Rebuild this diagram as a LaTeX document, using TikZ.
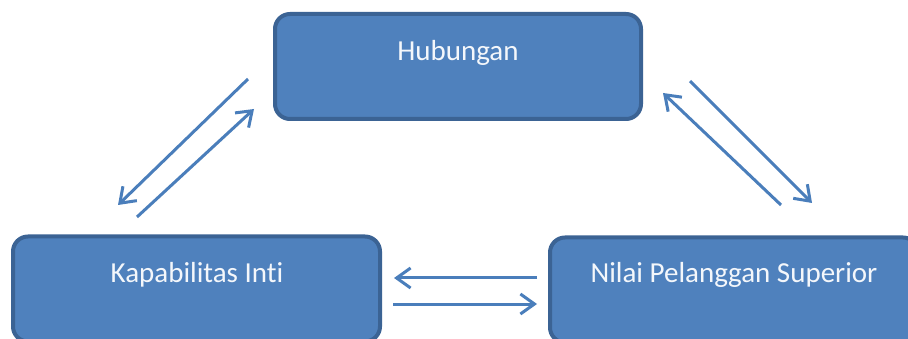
\documentclass[tikz,border=0pt]{standalone}
\usepackage{fontspec}
\setmainfont[Ligatures={NoCommon}]{Carlito}
\usetikzlibrary{arrows.meta}
\definecolor{boxfill}{HTML}{4F81BD}
\definecolor{boxline}{HTML}{3B6394}
\definecolor{arrowblue}{HTML}{4A7EBB}
\definecolor{txt}{HTML}{F4F7FB}
\tikzset{
  box/.style={draw=boxline, line width=4pt, fill=boxfill, rounded corners=15pt,
    minimum height=105pt, inner sep=0pt},
  boxtext/.style={text=txt, font=\fontsize{29}{34}\selectfont, anchor=center},
  link/.style={draw=arrowblue, line width=3pt,
    -{Straight Barb[length=14pt,width=20pt,line width=3pt]}},
}
\begin{document}
\begin{tikzpicture}[x=1pt,y=-1pt]
\useasboundingbox[fill=white] (0,0) rectangle (908,339);
\node[box, minimum width=366pt] (hub) at (458,66.5) {};
\node[boxtext] (hubt) at (458,53) {Hubungan};
\node[box, minimum width=367pt] (kap) at (196.5,289) {};
\node[boxtext] (kapt) at (197,275) {Kapabilitas Inti};
\node[box, minimum width=368pt] (nil) at (734,290) {};
\node[boxtext] (nilt) at (734,275) {Nilai Pelanggan Superior};
% arrow end points
\coordinate (l1s) at (248,79);  \coordinate (l1e) at (118,205);
\coordinate (l2s) at (137,217); \coordinate (l2e) at (254,109);
\coordinate (r1s) at (781,205); \coordinate (r1e) at (663,93);
\coordinate (r2s) at (690,81);  \coordinate (r2e) at (812,203);
\coordinate (b1s) at (537,278); \coordinate (b1e) at (394,278);
\coordinate (b2s) at (393,304); \coordinate (b2e) at (537,304);
\draw[link] (l1s) -- (l1e);
\draw[link] (l2s) -- (l2e);
\draw[link] (r1s) -- (r1e);
\draw[link] (r2s) -- (r2e);
\draw[link] (b1s) -- (b1e);
\draw[link] (b2s) -- (b2e);
\end{tikzpicture}
\end{document}
